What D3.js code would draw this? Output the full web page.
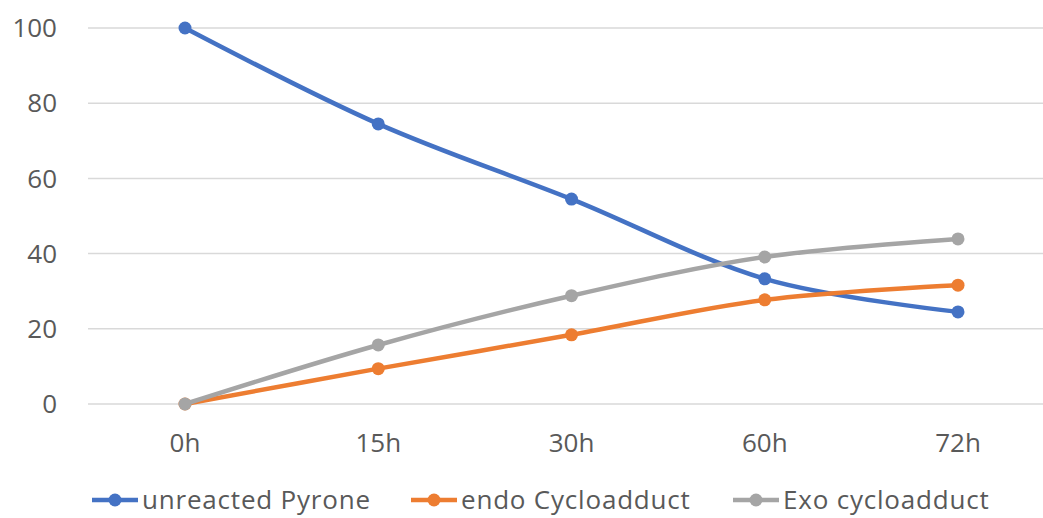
<!DOCTYPE html>
<html><head><meta charset="utf-8">
<script src="https://cdn.jsdelivr.net/npm/d3@7/dist/d3.min.js"></script>
<style>body{margin:0;background:#fff;overflow:hidden}svg{display:block}</style>
</head><body>
<svg id="c" width="1043" height="518"></svg>
<script>
const categories = ["0h","15h","30h","60h","72h"];
const seriesNames = ["unreacted Pyrone","endo Cycloadduct","Exo cycloadduct"];
const pyrone = [100,74.5,54.5,33.3,24.5];
const endo = [0,9.4,18.4,27.7,31.6];
const exo = [0,15.7,28.8,39.1,43.9];
const yTicks = [0,20,40,60,80,100];
const colors = ["#4472C4","#ED7D31","#A5A5A5"];

const svg = d3.select("#c");
const font = "'Open Sans', sans-serif";
const x = d3.scalePoint().domain(categories).range([185,958]);
const y = d3.scaleLinear().domain([0,100]).range([404,28]);

svg.append("g").selectAll("line").data(yTicks).join("line")
  .attr("x1",88).attr("x2",1043).attr("y1",d=>y(d)).attr("y2",d=>y(d))
  .attr("stroke","#D9D9D9").attr("stroke-width",1.5);

svg.append("g").selectAll("text").data(yTicks).join("text")
  .attr("x",57).attr("y",d=>y(d)).attr("dy","0.35em").attr("text-anchor","end")
  .attr("font-family",font).attr("font-size",26).attr("fill","#595959").text(d=>d);

svg.append("g").selectAll("text").data(categories).join("text")
  .attr("x",d=>x(d)).attr("y",443).attr("dy","0.35em").attr("text-anchor","middle")
  .attr("font-family",font).attr("font-size",26).attr("fill","#595959").text(d=>d);

const series = [pyrone, endo, exo];
const line = d3.line().x((d,i)=>x(categories[i])).y(d=>y(d)).curve(d3.curveCardinal.tension(0));
series.forEach((s,k)=>{
  const g = svg.append("g");
  g.append("path").datum(s).attr("d",line).attr("fill","none")
    .attr("stroke",colors[k]).attr("stroke-width",4.5).attr("stroke-linecap","round");
  g.selectAll("circle").data(s).join("circle")
    .attr("cx",(d,i)=>x(categories[i])).attr("cy",d=>y(d)).attr("r",6.5).attr("fill",colors[k]);
});

const legX = [92,411,733];
const lg = svg.append("g");
seriesNames.forEach((n,k)=>{
  const g = lg.append("g").attr("transform",`translate(${legX[k]},500)`);
  g.append("line").attr("x1",0).attr("x2",46).attr("stroke",colors[k]).attr("stroke-width",4.5);
  g.append("circle").attr("cx",23).attr("r",6.5).attr("fill",colors[k]);
  g.append("text").attr("x",50).attr("dy","0.35em").attr("font-family",font)
    .attr("font-size",26).attr("letter-spacing",0.8).attr("fill","#595959").text(n);
});
</script>
</body></html>
